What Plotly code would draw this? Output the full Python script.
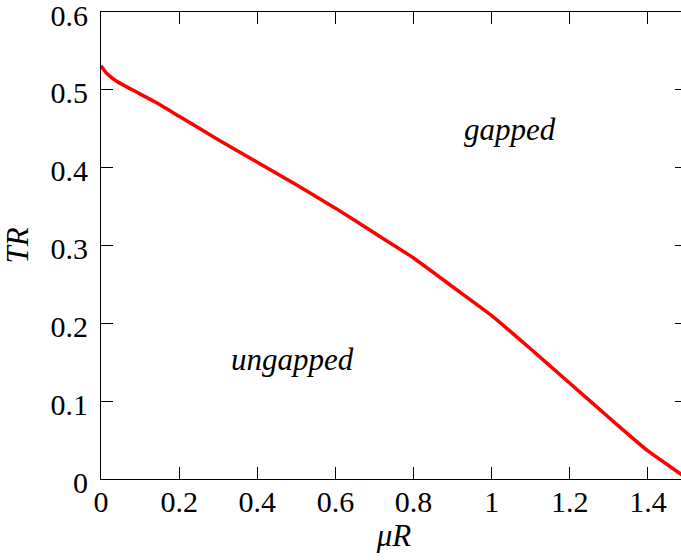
import plotly.graph_objects as go

mu_R = [0.0, 0.015, 0.04, 0.08, 0.14, 0.2, 0.3, 0.4, 0.5, 0.6, 0.7, 0.8, 0.9, 1.0, 1.1, 1.2, 1.3, 1.4, 1.485, 1.5]
T_R = [0.531, 0.521, 0.511, 0.500, 0.484, 0.466, 0.436, 0.407, 0.378, 0.348, 0.316, 0.284, 0.247, 0.210, 0.167, 0.123, 0.079, 0.036, 0.006, 0.0]

x_ticks = [0, 0.2, 0.4, 0.6, 0.8, 1.0, 1.2, 1.4]
x_tick_text = ["0", "0.2", "0.4", "0.6", "0.8", "1", "1.2", "1.4"]
y_ticks = [0, 0.1, 0.2, 0.3, 0.4, 0.5, 0.6]
y_tick_text = ["0", "0.1", "0.2", "0.3", "0.4", "0.5", "0.6"]

regions = ["gapped", "ungapped"]
region_x = [1.047, 0.491]
region_y = [0.449, 0.153]

FONT = "Liberation Serif"

fig = go.Figure()
fig.add_trace(go.Scatter(x=mu_R, y=T_R, mode="lines",
                         line=dict(color="#ff0000", width=3.5, shape="spline", smoothing=0.5),
                         showlegend=False, hoverinfo="skip", cliponaxis=True))

for t, xx, yy in zip(regions, region_x, region_y):
    fig.add_annotation(x=xx, y=yy, text="<i>" + t + "</i>", showarrow=False,
                       font=dict(family=FONT, size=31, color="black"))

axis_common = dict(showgrid=False, zeroline=False, showline=True, linecolor="black",
                   linewidth=1, mirror="ticks", ticks="inside", ticklen=12,
                   tickwidth=1, tickcolor="black", automargin=False,
                   ticklabeloverflow="allow",
                   tickfont=dict(family=FONT, size=30, color="black"))

fig.update_xaxes(range=[0, 1.5], tickvals=x_ticks, ticktext=x_tick_text,
                 ticklabelstandoff=-4,
                 title=dict(text="<i>μR</i>", font=dict(family=FONT, size=31, color="black"), standoff=6),
                 **axis_common)
fig.update_yaxes(range=[0, 0.6], tickvals=y_ticks, ticktext=y_tick_text,
                 ticklabelstandoff=6, ticklabelshift=3,
                 title=dict(text="<i>TR</i>", font=dict(family=FONT, size=31, color="black"), standoff=17),
                 **axis_common)

# The frame continues slightly past the right edge of the window, as in the reference.
fig.update_layout(width=687, height=560, margin=dict(l=101, r=0, t=12, b=81),
                  plot_bgcolor="white", paper_bgcolor="white")

fig.write_html("out.html", config={"displayModeBar": False},
               post_script="document.body.style.margin='0';document.body.style.overflow='hidden';")
